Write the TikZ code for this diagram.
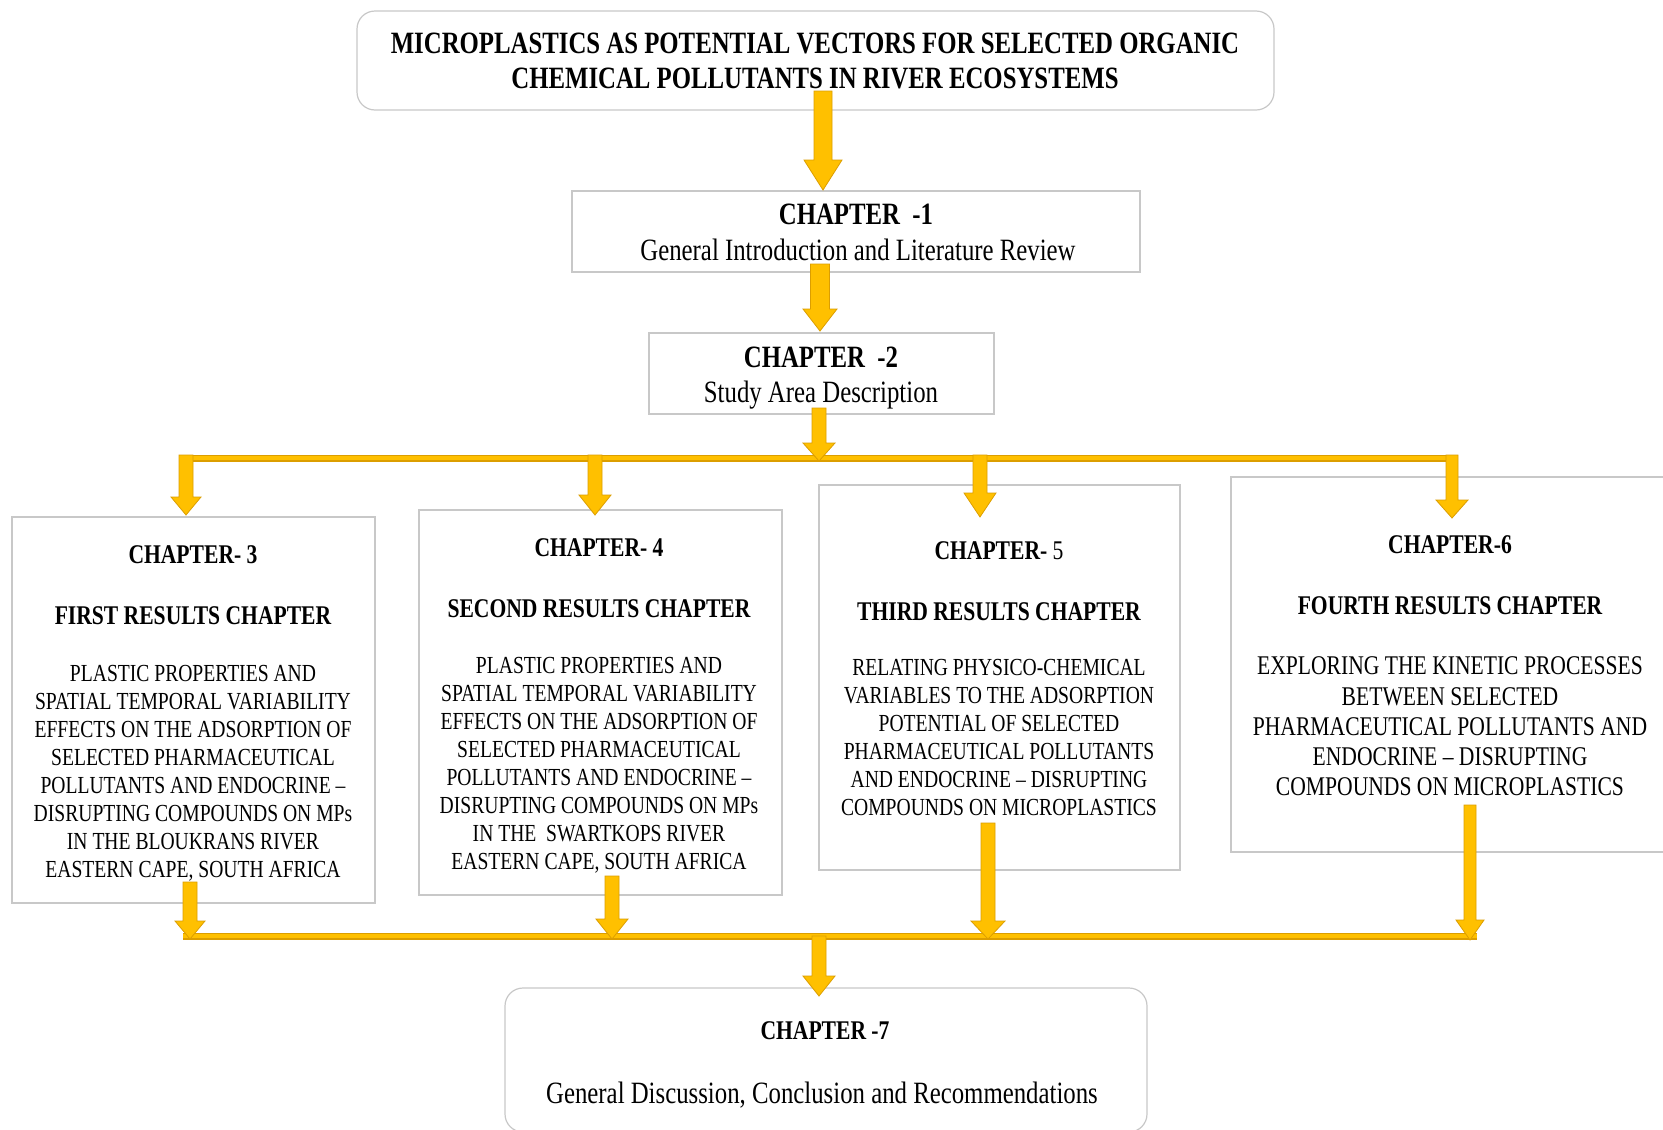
\documentclass[tikz,border=0pt]{standalone}
\usepackage{fontspec}
\setmainfont{Liberation Serif}[FakeStretch=0.8]
\usetikzlibrary{calc}
\definecolor{gold}{RGB}{255,192,0}
\definecolor{golddark}{RGB}{220,158,0}
\definecolor{boxline}{RGB}{200,200,200}
\newcommand\fbig{\fontsize{31}{35}\selectfont}
\newcommand\fhead{\fontsize{27}{30}\selectfont\bfseries}
\newcommand\fbody{\fontsize{24.5}{28}\selectfont}
\newcommand\fbodyb{\fontsize{27}{30.2}\selectfont}
\newcommand\blockarrow[5]{%
  \path[barrow] let \p1=(#1), \p2=(#2) in
    (\x1-#3pt,\y1) -- (\x1+#3pt,\y1) -- (\x1+#3pt,\y2+#5pt) -- (\x1+#4pt,\y2+#5pt)
    -- (\x2,\y2) -- (\x1-#4pt,\y2+#5pt) -- (\x1-#3pt,\y2+#5pt) -- cycle;}
\tikzset{
  box/.style={draw=boxline, line width=1.2pt, fill=white, inner sep=0pt},
  rbox/.style={box, rounded corners=18pt},
  txt/.style={inner sep=0pt, align=center, text=black},
  btxt/.style={txt, anchor=base},
  bus/.style={draw=golddark, line width=7pt},
  busin/.style={draw=gold, line width=4.5pt},
  barrow/.style={fill=gold, draw=golddark, line width=0.8pt, line join=miter},
}
\begin{document}
\begin{tikzpicture}[x=1pt,y=-1pt]
\useasboundingbox (0,0) rectangle (1663,1130);
\fill[white] (0,0) rectangle (1663,1130);
% boxes
\node[rbox, minimum width=917, minimum height=99] (title) at (815.5,60.5) {};
\node[box, minimum width=568, minimum height=81] (ch1) at (856,231.5) {};
\node[box, minimum width=345, minimum height=81] (ch2) at (821.5,373.5) {};
\node[box, minimum width=363, minimum height=386] (b3) at (193.5,710) {};
\node[box, minimum width=363, minimum height=385] (b4) at (600.5,702.5) {};
\node[box, minimum width=361, minimum height=385] (b5) at (999.5,677.5) {};
\node[box, minimum width=438, minimum height=375] (b6) at (1450,664.5) {};
\node[rbox, minimum width=642, minimum height=144] (b7) at (826,1060) {};
% texts
\node[txt, font=\fbig\bfseries] (titletxt) at (815,61) {MICROPLASTICS AS POTENTIAL VECTORS FOR SELECTED ORGANIC\\CHEMICAL POLLUTANTS IN RIVER ECOSYSTEMS};
\node[btxt, font=\fbig\bfseries] (ch1h) at (856,224) {CHAPTER~~-1};
\node[btxt, font=\fbig] (ch1s) at (858,260) {General Introduction and Literature Review};
\node[btxt, font=\fbig\bfseries] (ch2h) at (821,367) {CHAPTER~~-2};
\node[btxt, font=\fbig] (ch2s) at (821,402) {Study Area Description};
% chapter 3
\node[btxt, font=\fhead] (b3h) at (193,563) {CHAPTER- 3};
\node[btxt, font=\fhead] (b3s) at (193,624) {FIRST RESULTS CHAPTER};
\node[txt, font=\fbody] (b3t) at (193,773) {PLASTIC PROPERTIES AND\\SPATIAL TEMPORAL VARIABILITY\\EFFECTS ON THE ADSORPTION OF\\SELECTED PHARMACEUTICAL\\POLLUTANTS AND ENDOCRINE –\\DISRUPTING COMPOUNDS ON MPs\\IN THE BLOUKRANS RIVER\\EASTERN CAPE, SOUTH AFRICA};
% chapter 4
\node[btxt, font=\fhead] (b4h) at (599,556) {CHAPTER- 4};
\node[btxt, font=\fhead] (b4s) at (599,617) {SECOND RESULTS CHAPTER};
\node[txt, font=\fbody] (b4t) at (599,765) {PLASTIC PROPERTIES AND\\SPATIAL TEMPORAL VARIABILITY\\EFFECTS ON THE ADSORPTION OF\\SELECTED PHARMACEUTICAL\\POLLUTANTS AND ENDOCRINE –\\DISRUPTING COMPOUNDS ON MPs\\IN THE~~SWARTKOPS RIVER\\EASTERN CAPE, SOUTH AFRICA};
% chapter 5
\node[btxt, font=\fhead] (b5h) at (999,559) {CHAPTER- {\mdseries 5}};
\node[btxt, font=\fhead] (b5s) at (999,620) {THIRD RESULTS CHAPTER};
\node[txt, font=\fbody] (b5t) at (999,737.5) {RELATING PHYSICO-CHEMICAL\\VARIABLES TO THE ADSORPTION\\POTENTIAL OF SELECTED\\PHARMACEUTICAL POLLUTANTS\\AND ENDOCRINE – DISRUPTING\\COMPOUNDS ON MICROPLASTICS};
% chapter 6
\node[btxt, font=\fhead] (b6h) at (1450,553) {CHAPTER-6};
\node[btxt, font=\fhead] (b6s) at (1450,614) {FOURTH RESULTS CHAPTER};
\node[txt, font=\fbodyb] (b6t) at (1450,726.5) {EXPLORING THE KINETIC PROCESSES\\BETWEEN SELECTED\\PHARMACEUTICAL POLLUTANTS AND\\ENDOCRINE – DISRUPTING\\COMPOUNDS ON MICROPLASTICS};
% chapter 7
\node[btxt, font=\fhead] (b7h) at (825,1039) {CHAPTER -7};
\node[btxt, font=\fbig] (b7s) at (822,1103) {General Discussion, Conclusion and Recommendations};
% connector coordinates
\coordinate (a1s) at (823,91);   \coordinate (a1e) at (823,190);
\coordinate (a2s) at (820,264);  \coordinate (a2e) at (820,331);
\coordinate (a3s) at (819,408);  \coordinate (a3e) at (819,461);
\coordinate (busL) at (179,458); \coordinate (busR) at (1458,458);
\coordinate (t3s) at (186,455);  \coordinate (t3e) at (186,515);
\coordinate (t4s) at (595,455);  \coordinate (t4e) at (595,515);
\coordinate (t5s) at (980,455);  \coordinate (t5e) at (980,517);
\coordinate (t6s) at (1452,455); \coordinate (t6e) at (1452,518);
\coordinate (d3s) at (190,882);  \coordinate (d3e) at (190,939);
\coordinate (d4s) at (612,876);  \coordinate (d4e) at (612,939);
\coordinate (d5s) at (988,823);  \coordinate (d5e) at (988,939);
\coordinate (d6s) at (1470,805); \coordinate (d6e) at (1470,940);
\coordinate (bbusL) at (183,936); \coordinate (bbusR) at (1477,936);
\coordinate (a7s) at (819,936);  \coordinate (a7e) at (819,996);
% buses
\draw[bus] (busL) -- (busR);
\draw[busin] (busL) -- (busR);
\draw[bus] (bbusL) -- (bbusR);
\draw[busin] (bbusL) -- (bbusR);
% arrows
\blockarrow{a1s}{a1e}{9}{19}{30}
\blockarrow{a2s}{a2e}{9.5}{17}{22}
\blockarrow{a3s}{a3e}{7}{16}{18}
\blockarrow{t3s}{t3e}{7}{15}{18}
\blockarrow{t4s}{t4e}{7}{16}{20}
\blockarrow{t5s}{t5e}{7}{16}{24}
\blockarrow{t6s}{t6e}{6}{16}{18}
\blockarrow{d3s}{d3e}{7}{15}{18}
\blockarrow{d4s}{d4e}{7}{16}{20}
\blockarrow{d5s}{d5e}{7}{17}{18}
\blockarrow{d6s}{d6e}{6}{14}{20}
\blockarrow{a7s}{a7e}{7}{16}{20}
\end{tikzpicture}
\end{document}
